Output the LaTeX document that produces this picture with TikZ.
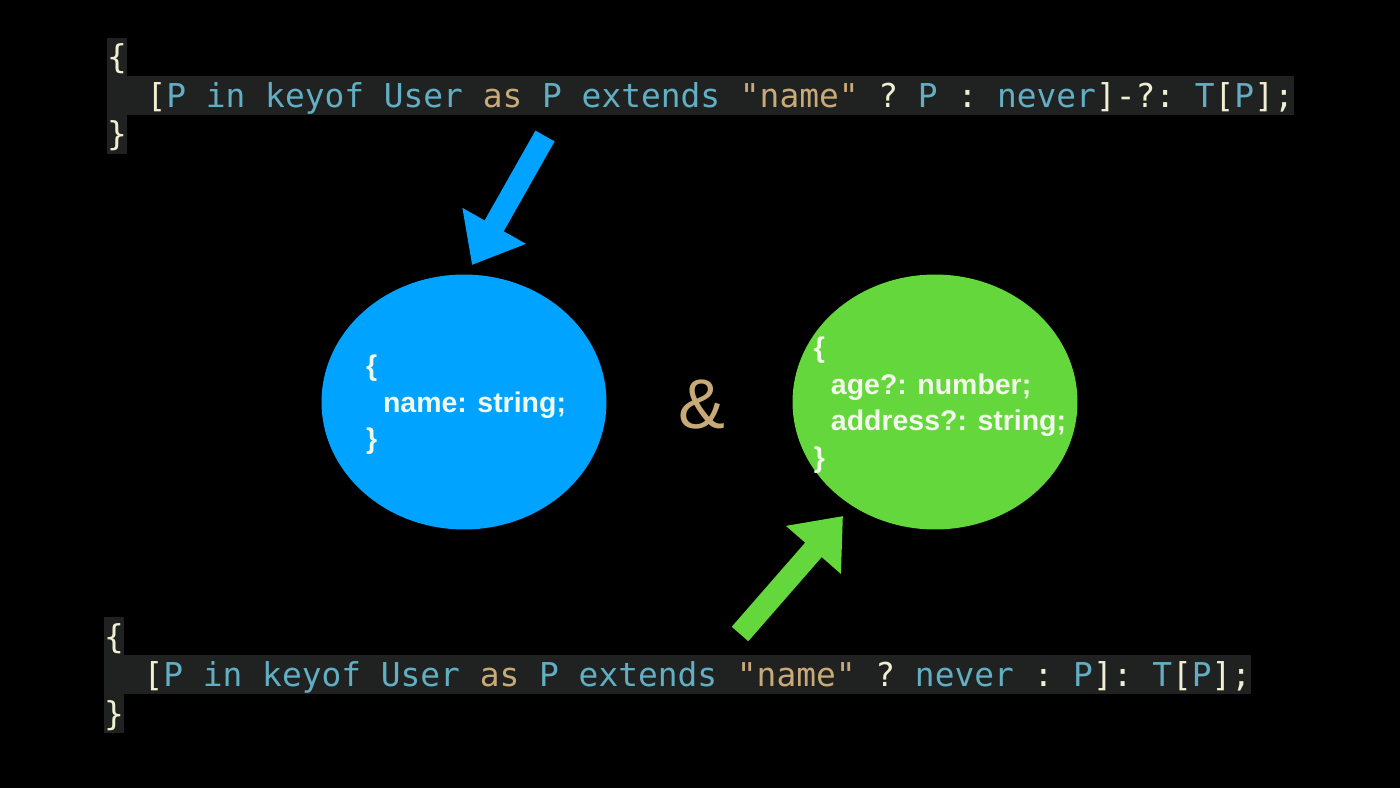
\documentclass[tikz,border=0pt]{standalone}
\usepackage{fontspec}
\usepackage{xcolor}
\usepackage{tikz}
\usetikzlibrary{arrows.meta,positioning,shapes.geometric,calc}
\newfontfamily\codefont{DejaVu Sans Mono}
\newfontfamily\blobfont{Liberation Sans}
\definecolor{codebg}{HTML}{202222}
\definecolor{codeident}{HTML}{62AFC3}
\definecolor{codekey}{HTML}{C8AA78}
\definecolor{codepunct}{HTML}{F0EFD2}
\definecolor{blobblue}{HTML}{00A3FF}
\definecolor{blobgreen}{HTML}{63D73B}
\definecolor{blobwhite}{HTML}{F2F8EA}
\newcommand\tokid[1]{\textcolor{codeident}{#1}}
\newcommand\tokkw[1]{\textcolor{codekey}{#1}}
\newcommand\tokpun[1]{\textcolor{codepunct}{#1}}
\begin{document}
\begin{tikzpicture}[x=0.02cm, y=-0.02cm,
  codeline/.style={anchor=base west, inner sep=0pt, outer sep=0pt, fill=codebg,
                   text height=0.62cm, text depth=0.16cm, text=codepunct,
                   font=\codefont\fontsize{18.7}{22}\selectfont},
  blob/.style={ellipse, minimum width=5.7cm, minimum height=5.1cm, inner sep=0pt, outer sep=0pt},
  blobtxt/.style={align=left, inner sep=0pt, text=blobwhite,
                  font=\blobfont\bfseries\fontsize{16.2}{20.8}\selectfont},
  fatarrow/.style={line width=0.44cm, -{Triangle[length=0.9cm, width=1.4cm]}}]
\fill[black] (0,0) rectangle (1400,788);
% mapped type keeping "name"
\node[codeline] (picka) at (107,68.5)  {\{};
\node[codeline] (pickb) at (107,107)   {~~\tokpun{[}\tokid{P~in~keyof~User}~\tokkw{as}~\tokid{P~extends}~\tokkw{"name"}~\tokpun{?}~\tokid{P}~\tokpun{:}~\tokid{never}\tokpun{]-?:}~\tokid{T}\tokpun{[}\tokid{P}\tokpun{];}};
\node[codeline] (pickc) at (107,145.5) {\}~};
% mapped type dropping "name"
\node[codeline] (omita) at (104,648) {\{};
\node[codeline] (omitb) at (104,686) {~~\tokpun{[}\tokid{P~in~keyof~User}~\tokkw{as}~\tokid{P~extends}~\tokkw{"name"}~\tokpun{?}~\tokid{never}~\tokpun{:}~\tokid{P}\tokpun{]:}~\tokid{T}\tokpun{[}\tokid{P}\tokpun{];}};
\node[codeline] (omitc) at (104,725) {\}};
% the two result sets
\node[blob, fill=blobblue]  (pickset) at (464,402) {};
\node[blob, fill=blobgreen] (omitset) at (935,402) {};
\node[blobtxt] (picktxt) at ($(pickset)+(2,3)$) {\{\\\hspace*{0.6em}name: string;\\\}};
\node[blobtxt] (omittxt) at ($(omitset)+(5,3)$) {\{\\\hspace*{0.6em}age?: number;\\\hspace*{0.6em}address?: string;\\\}};
\node[inner sep=0pt, text=codekey, font=\blobfont\fontsize{40}{40}\selectfont] (andsign) at (702,405) {\&};
\coordinate (pickfrom) at (545,136);
\coordinate (pickto)   at (472,265);
\coordinate (omitfrom) at (740,634);
\coordinate (omitto)   at (843,516);
\draw[fatarrow, blobblue]  (pickfrom) -- (pickto);
\draw[fatarrow, blobgreen] (omitfrom) -- (omitto);
\end{tikzpicture}
\end{document}
